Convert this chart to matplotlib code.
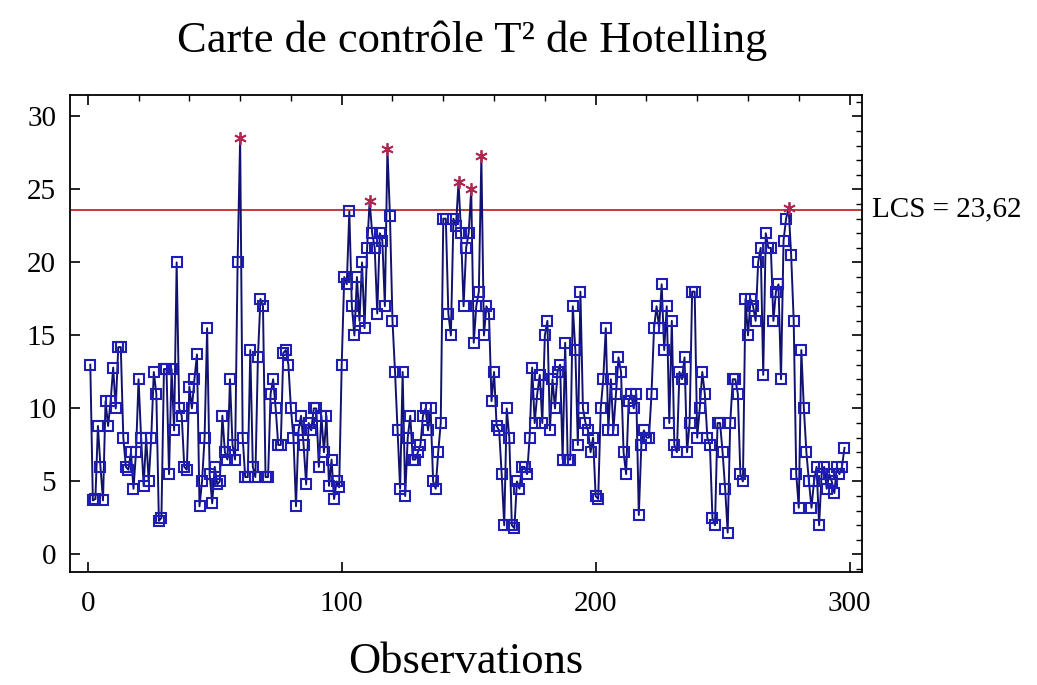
import numpy as np
import matplotlib.pyplot as plt
from matplotlib.ticker import MultipleLocator

# T2 values, observations 1..298
t2 = [13.0, 3.7, 3.8, 8.8, 6.0, 3.7, 10.5, 8.8, 10.5, 12.8,
      10.0, 14.2, 14.2, 8.0, 6.0, 5.8, 7.0, 4.5, 7.0, 12.0,
      8.0, 4.7, 8.0, 5.0, 8.0, 12.5, 11.0, 2.3, 2.5, 12.7,
      12.7, 5.5, 12.7, 8.5, 20.0, 10.0, 9.5, 6.0, 5.8, 11.5,
      10.0, 12.0, 13.7, 3.3, 5.0, 8.0, 15.5, 5.5, 3.5, 6.0,
      4.8, 5.0, 9.5, 7.0, 6.5, 12.0, 7.5, 6.5, 20.0, 28.5,
      8.0, 5.3, 5.3, 14.0, 6.0, 5.3, 13.5, 17.5, 17.0, 5.3,
      5.3, 11.0, 12.0, 10.0, 7.5, 7.5, 13.8, 14.0, 13.0, 10.0,
      8.0, 3.3, 8.5, 9.5, 7.5, 4.8, 9.0, 8.5, 10.0, 10.0,
      6.0, 9.5, 7.0, 9.5, 4.7, 6.5, 3.8, 5.0, 4.6, 13.0,
      19.0, 18.5, 23.5, 17.0, 15.0, 19.0, 16.0, 20.0, 15.5, 21.0,
      24.2, 22.0, 21.0, 16.5, 22.0, 21.5, 17.0, 27.8, 23.2, 16.0,
      12.5, 8.5, 4.5, 12.5, 4.0, 8.0, 9.5, 6.5, 6.5, 7.0,
      7.5, 9.5, 10.0, 8.5, 10.0, 5.0, 4.5, 7.0, 9.0, 23.0,
      23.0, 16.5, 15.0, 23.0, 22.5, 25.5, 22.0, 17.0, 21.0, 22.0,
      25.0, 14.5, 17.0, 18.0, 27.3, 15.0, 17.0, 16.5, 10.5, 12.5,
      8.8, 8.5, 5.5, 2.0, 10.0, 8.0, 2.0, 1.8, 5.0, 4.5,
      6.0, 6.0, 5.5, 8.0, 12.8, 9.0, 11.0, 12.3, 9.0, 15.0,
      16.0, 8.5, 12.0, 10.0, 12.5, 13.0, 6.5, 14.5, 6.5, 6.5,
      17.0, 14.0, 7.5, 18.0, 10.0, 9.0, 8.5, 7.0, 8.0, 4.0,
      3.8, 10.0, 12.0, 15.5, 8.5, 12.0, 8.5, 11.0, 13.5, 12.5,
      7.0, 5.5, 10.5, 11.0, 10.0, 11.0, 2.7, 7.5, 8.5, 8.0,
      8.0, 11.0, 15.5, 17.0, 15.5, 18.5, 14.0, 17.0, 9.0, 16.0,
      7.5, 7.0, 12.5, 12.0, 13.5, 7.0, 9.0, 18.0, 18.0, 8.0,
      10.0, 12.5, 11.0, 8.0, 7.5, 2.5, 2.0, 9.0, 9.0, 7.0,
      4.5, 1.5, 9.0, 12.0, 12.0, 11.0, 5.5, 5.0, 17.5, 15.0,
      17.5, 17.0, 16.0, 20.0, 21.0, 12.3, 22.0, 21.0, 21.0, 16.0,
      18.0, 18.5, 12.0, 21.5, 23.0, 23.7, 20.5, 16.0, 5.5, 3.2,
      14.0, 10.0, 7.0, 5.0, 3.2, 5.0, 6.0, 2.0, 5.5, 6.0,
      4.5, 5.5, 5.0, 4.2, 6.0, 5.5, 6.0, 7.3]
lcs = 23.62

t2 = np.array(t2)
obs = np.arange(1, len(t2) + 1)
hors = t2 > lcs

plt.rcParams['font.family'] = ['Liberation Serif', 'DejaVu Serif']
plt.rcParams['xtick.labelsize'] = 21
plt.rcParams['ytick.labelsize'] = 21

fig = plt.figure(figsize=(10.37, 6.85), dpi=100)
ax = fig.add_axes([0.0675, 0.165, 0.764, 0.697])

ax.plot(obs, t2, color='#12126e', lw=1.4, zorder=2)
ax.plot(obs[~hors], t2[~hors], ls='none', marker='s', ms=7, mfc='none',
        mec='#1e1eb4', mew=1.5, zorder=3)
ax.plot(obs[hors], t2[hors], ls='none', marker=(6, 2, 0), ms=9,
        mec='#b02850', mew=1.3, zorder=4)
ax.axhline(lcs, color='#c03a3a', lw=1.4, zorder=1)

ax.text(1.012, (lcs + 1.2) / 32.7, 'LCS = 23,62', transform=ax.transAxes,
        fontsize=21, va='center', ha='left')

ax.set_xlim(-7, 305)
ax.set_ylim(-1.2, 31.5)
ax.set_xticks([0, 100, 200, 300])
ax.set_yticks([0, 5, 10, 15, 20, 25, 30])
ax.yaxis.set_minor_locator(MultipleLocator(1))
ax.xaxis.set_minor_locator(MultipleLocator(20))
ax.tick_params(axis='x', which='major', direction='in', top=True, length=7,
               width=1.2, pad=14, labelsize=21)
ax.tick_params(axis='y', which='major', direction='in', right=True, length=7,
               width=1.2, pad=10, labelsize=21)
ax.tick_params(which='minor', direction='in', length=4, width=1,
               left=False, bottom=False, top=True, right=True)
for s in ax.spines.values():
    s.set_linewidth(1.3)

fig.suptitle('Carte de contrôle T² de Hotelling', fontsize=32, x=0.455, y=0.97)
ax.set_xlabel('Observations', fontsize=32, labelpad=18)

fig.savefig('out.png', dpi=100)
